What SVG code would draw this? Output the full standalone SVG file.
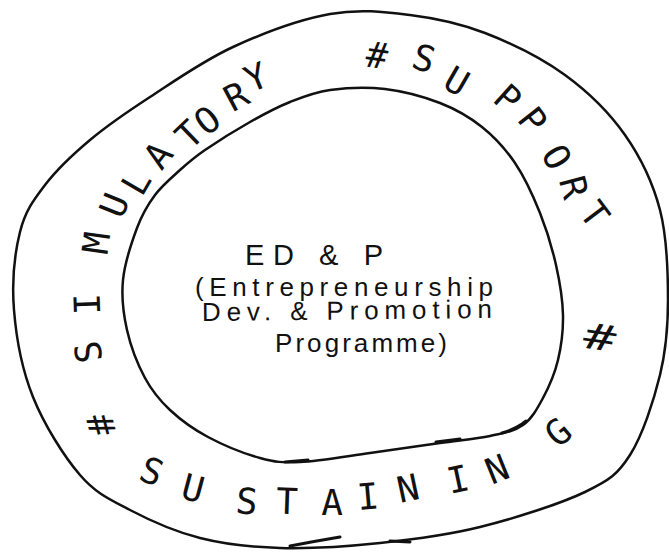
<svg xmlns="http://www.w3.org/2000/svg" width="669" height="553" viewBox="0 0 669 553">
  <style>
    .loop { fill: none; stroke: #111; stroke-width: 2.5; stroke-linecap: round; stroke-linejoin: round; }
    .tick { fill: none; stroke: #111; stroke-width: 3; stroke-linecap: round; }
    .ring { font-family: "DejaVu Sans Mono", "Liberation Mono", monospace; font-size: 36px; fill: #111; text-anchor: middle; }
    .core { font-family: "Liberation Sans", Arial, sans-serif; fill: #111; }
  </style>
  <rect width="669" height="553" fill="#ffffff"/>

  <!-- outer ring: sustaining / support / simulatory band -->
  <g id="ring">
    <path class="loop" d="M330,14 C359.5,8.7 384.2,11.8 410,15 C435.8,18.2 459.2,23 485,33 C510.8,43 541.7,58 565,75 C588.3,92 609.2,112.5 625,135 C640.8,157.5 652.8,182.5 660,210 C667.2,237.5 668,272.5 668,300 C668,327.5 666.3,349.2 660,375 C653.7,400.8 642.5,435.5 630,455 C617.5,474.5 610,480 585,492 C560,504 514.2,518.5 480,527 C445.8,535.5 413.3,539.5 380,543 C346.7,546.5 310,548.8 280,548 C250,547.2 225,544.3 200,538 C175,531.7 150,520.5 130,510 C110,499.5 96.2,493.8 80,475 C63.8,456.2 44,424.5 33,397 C22,369.5 16.2,337.5 14,310 C11.8,282.5 14.8,252.8 20,232 C25.2,211.2 33.3,200.3 45,185 C56.7,169.7 72.5,154.7 90,140 C107.5,125.3 126.2,112.5 150,97 C173.8,81.5 203,60.8 233,47 C263,33.2 300.5,19.3 330,14 Z"/>
    <path class="tick" d="M290,546 Q316,541 340,537"/>
    <path class="tick" d="M390,541 L410,542"/>

    <!-- left / upper arc, letters facing outward -->
    <text class="ring" transform="translate(101 425) rotate(-105)" y="13">#</text>
    <text class="ring" transform="translate(88 352) rotate(-100)" y="13">S</text>
    <text class="ring" transform="translate(87 304) rotate(-92)" y="13">I</text>
    <text class="ring" transform="translate(96 243) rotate(-82)" y="13">M</text>
    <text class="ring" transform="translate(114 205) rotate(-68)" y="13">U</text>
    <text class="ring" transform="translate(136 182) rotate(-60)" y="13">L</text>
    <text class="ring" transform="translate(158 155) rotate(-52)" y="13">A</text>
    <text class="ring" transform="translate(189 134) rotate(-44)" y="13">T</text>
    <text class="ring" transform="translate(207 120) rotate(-38)" y="13">O</text>
    <text class="ring" transform="translate(236 96) rotate(-28)" y="13">R</text>
    <text class="ring" transform="translate(256 77) rotate(-22)" y="13">Y</text>

    <text class="ring" transform="translate(377 55) rotate(8)" y="13">#</text>
    <text class="ring" transform="translate(424 58) rotate(18)" y="13">S</text>
    <text class="ring" transform="translate(457 81) rotate(30)" y="13">U</text>
    <text class="ring" transform="translate(508 98) rotate(42)" y="13">P</text>
    <text class="ring" transform="translate(533 120) rotate(52)" y="13">P</text>
    <text class="ring" transform="translate(557 157) rotate(60)" y="13">O</text>
    <text class="ring" transform="translate(574 187) rotate(75)" y="13">R</text>
    <text class="ring" transform="translate(595 214) rotate(53)" y="13">T</text>

    <text class="ring" transform="translate(600 337) rotate(8) scale(1.5 1)" y="13">#</text>

    <!-- lower arc, letters facing the centre -->
    <text class="ring" transform="translate(152 471) rotate(22)" y="13">S</text>
    <text class="ring" transform="translate(193 488) rotate(15)" y="13">U</text>
    <text class="ring" transform="translate(247 501) rotate(6)" y="13">S</text>
    <text class="ring" transform="translate(287 501) rotate(2)" y="13">T</text>
    <text class="ring" transform="translate(332 502) rotate(0)" y="13">A</text>
    <text class="ring" transform="translate(368 496) rotate(-5)" y="13">I</text>
    <text class="ring" transform="translate(408 488) rotate(-12)" y="13">N</text>
    <text class="ring" transform="translate(458 479) rotate(-12)" y="13">I</text>
    <text class="ring" transform="translate(497 469) rotate(-22)" y="13">N</text>
    <text class="ring" transform="translate(558 432) rotate(-40)" y="13">G</text>
  </g>

  <!-- inner core: the programme itself -->
  <g id="edp">
    <path class="loop" d="M330,90 C345.8,87.8 366.7,86.8 385,89 C403.3,91.2 423.8,96.7 440,103 C456.2,109.3 469.5,117 482,127 C494.5,137 505.3,148.7 515,163 C524.7,177.3 533.2,196 540,213 C546.8,230 552.2,248 556,265 C559.8,282 562.7,299.2 563,315 C563.3,330.8 561.3,346.2 558,360 C554.7,373.8 548.8,387.2 543,398 C537.2,408.8 531.8,418.7 523,425 C514.2,431.3 503.8,433 490,436 C476.2,439 460,440.2 440,443 C420,445.8 393.3,449.8 370,453 C346.7,456.2 318.3,461.2 300,462 C281.7,462.8 275.3,462.2 260,458 C244.7,453.8 223,445 208,437 C193,429 180.5,419.8 170,410 C159.5,400.2 152.2,391.3 145,378 C137.8,364.7 130.7,346.3 127,330 C123.3,313.7 121.3,297 123,280 C124.7,263 131.7,242.2 137,228 C142.3,213.8 147.8,204.7 155,195 C162.2,185.3 171.7,177.5 180,170 C188.3,162.5 193.3,158 205,150 C216.7,142 235.8,130 250,122 C264.2,114 276.7,107.3 290,102 C303.3,96.7 314.2,92.2 330,90 Z"/>
    <path class="tick" d="M285,462 L308,460"/>
    <path class="tick" d="M436,442 L460,439"/>
    <path class="tick" d="M502,433 Q513,430 522,424 L526,421"/>

    <text class="core" x="245" y="265" font-size="29" textLength="138" lengthAdjust="spacing">ED &amp; P</text>
    <text class="core" x="195" y="296" font-size="26" textLength="298" lengthAdjust="spacing">(Entrepreneurship</text>
    <text class="core" x="202" y="321" font-size="26" textLength="290" lengthAdjust="spacing" transform="rotate(-0.6 202 321)">Dev. &amp; Promotion</text>
    <text class="core" x="275" y="352" font-size="26" textLength="172" lengthAdjust="spacing">Programme)</text>
  </g>
</svg>
